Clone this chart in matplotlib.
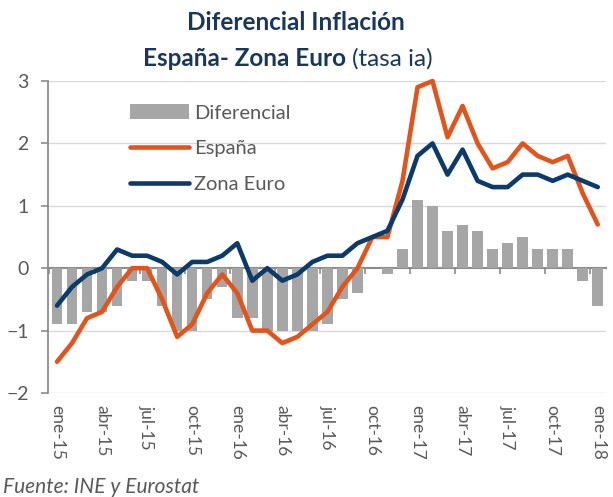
import matplotlib
matplotlib.use("Agg")
import matplotlib.pyplot as plt
import numpy as np
from matplotlib.patches import Patch
from matplotlib.lines import Line2D

plt.rcParams["font.family"] = ["Lato", "DejaVu Sans"]

# -------------------------
# Data (tasa interanual, ene-15 .. ene-18)
# -------------------------
tick_labels = ["ene-15", "abr-15", "jul-15", "oct-15", "ene-16", "abr-16", "jul-16",
               "oct-16", "ene-17", "abr-17", "jul-17", "oct-17", "ene-18"]

espana = [-1.5, -1.2, -0.8, -0.7, -0.3, 0.0, 0.0, -0.5, -1.1, -0.9, -0.4, -0.1,
          -0.4, -1.0, -1.0, -1.2, -1.1, -0.9, -0.7, -0.3, 0.0, 0.5, 0.5, 1.4,
          2.9, 3.0, 2.1, 2.6, 2.0, 1.6, 1.7, 2.0, 1.8, 1.7, 1.8, 1.2, 0.7]
zona_euro = [-0.6, -0.3, -0.1, 0.0, 0.3, 0.2, 0.2, 0.1, -0.1, 0.1, 0.1, 0.2,
             0.4, -0.2, 0.0, -0.2, -0.1, 0.1, 0.2, 0.2, 0.4, 0.5, 0.6, 1.1,
             1.8, 2.0, 1.5, 1.9, 1.4, 1.3, 1.3, 1.5, 1.5, 1.4, 1.5, 1.4, 1.3]
diferencial = [-0.9, -0.9, -0.7, -0.7, -0.6, -0.2, -0.2, -0.6, -1.0, -1.0, -0.5, -0.3,
               -0.8, -0.8, -1.0, -1.0, -1.0, -1.0, -0.9, -0.5, -0.4, 0.0, -0.1, 0.3,
               1.1, 1.0, 0.6, 0.7, 0.6, 0.3, 0.4, 0.5, 0.3, 0.3, 0.3, -0.2, -0.6]

# colours
GRAY_BAR = "#A6A6A6"
ORANGE = "#E3541B"
NAVY = "#0B3A6B"
TITLE = "#17375E"
TEXT = "#595959"
AXIS = "#8C8C8C"
GRID = "#D9D9D9"

x = np.arange(len(espana))

fig = plt.figure(figsize=(6.13, 4.97), dpi=100)
ax = fig.add_axes([0.0783, 0.2093, 0.9103, 0.6277])

ax.bar(x, diferencial, width=0.7, color=GRAY_BAR, zorder=2)
ax.plot(x, espana, color=ORANGE, lw=3.3, solid_capstyle="round", zorder=3, clip_on=False)
ax.plot(x, zona_euro, color=NAVY, lw=3.3, solid_capstyle="round", zorder=4, clip_on=False)

ax.set_xlim(-0.6, len(espana) - 0.45)
ax.set_ylim(-2, 3)
ax.set_yticks([-2, -1, 0, 1, 2, 3])
for v in [-2, -1, 1, 2, 3]:
    ax.axhline(v, color=GRID, lw=1, zorder=0)

# y axis
for s in ["top", "right", "bottom"]:
    ax.spines[s].set_visible(False)
ax.spines["left"].set_color(AXIS)
ax.spines["left"].set_linewidth(1.3)
ax.tick_params(axis="y", direction="out", length=5, width=1.2, color=AXIS,
               labelcolor=TEXT, labelsize=14, pad=9)

# category labels at the bottom
ax.set_xticks(x[::3])
ax.set_xticklabels(tick_labels, rotation=-90, color=TEXT, fontsize=12.5)
ax.tick_params(axis="x", length=0, pad=9)

# category axis on the zero line with tick marks every 3 months
sec = ax.secondary_xaxis(0.4)
sec.set_xticks(np.arange(-0.5, len(espana), 3))
sec.set_xticklabels([])
sec.tick_params(axis="x", direction="out", length=4, width=1.2, color=AXIS)
sec.spines["bottom"].set_color(AXIS)
sec.spines["bottom"].set_linewidth(1.5)

# legend
handles = [Patch(facecolor=GRAY_BAR, edgecolor="none"),
           Line2D([], [], color=ORANGE, lw=3.3, solid_capstyle="round"),
           Line2D([], [], color=NAVY, lw=3.3, solid_capstyle="round")]
leg = ax.legend(handles, ["Diferencial", "España", "Zona Euro"], loc="upper left",
                bbox_to_anchor=(0.115, 0.985), frameon=False, fontsize=14.5,
                handlelength=2.9, handleheight=0.8, handletextpad=0.25,
                labelspacing=0.9)
for t in leg.get_texts():
    t.set_color(TEXT)

# title
fig.text(0.482, 0.955, "Diferencial Inflación", ha="center", va="center",
         fontsize=17.5, fontweight="bold", color=TITLE)
fig.text(0.565, 0.882, "España- Zona Euro", ha="right", va="center",
         fontsize=17.5, fontweight="bold", color=TITLE)
fig.text(0.575, 0.882, "(tasa ia)", ha="left", va="center",
         fontsize=17.5, color=TITLE)

fig.text(0.005, 0.02, "Fuente: INE y Eurostat", ha="left", va="center",
         fontsize=15, style="italic", color=TEXT)

fig.savefig("out.png", dpi=100)
